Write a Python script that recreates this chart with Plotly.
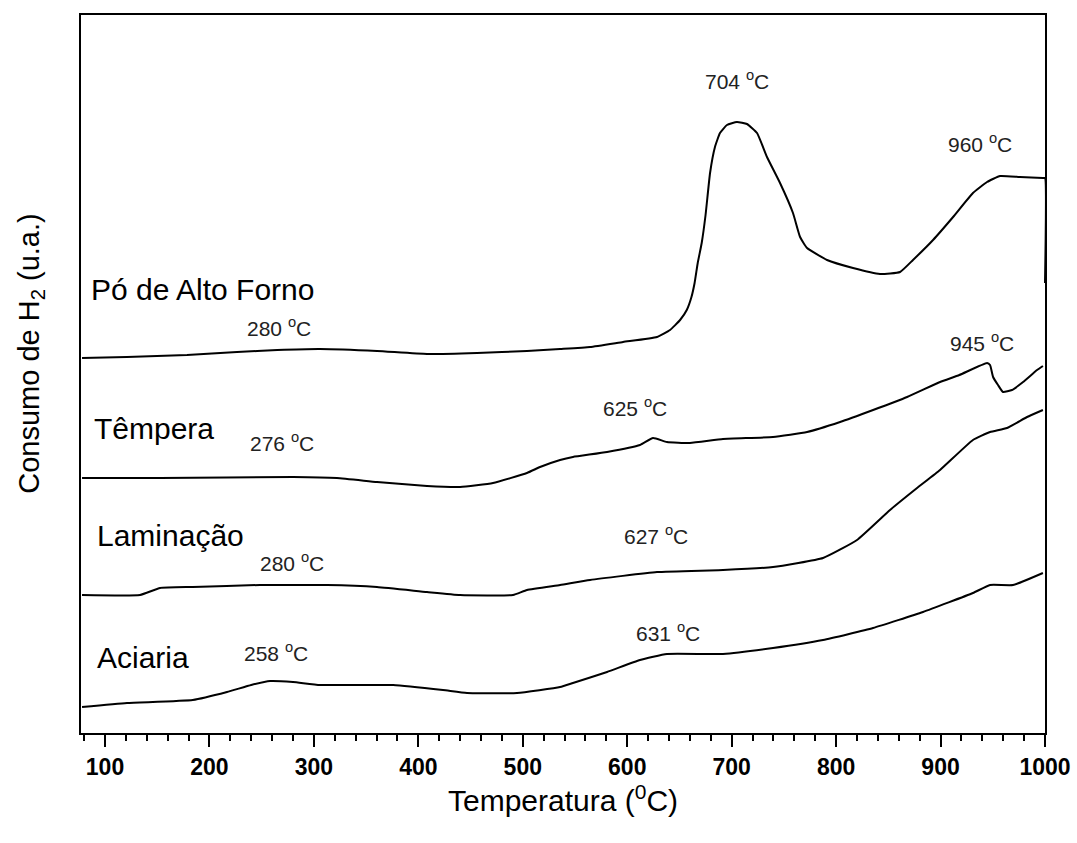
import plotly.graph_objects as go

# Temperature (°C) and H2 consumption (arbitrary units, offset per sample)
t_po = [78, 121, 178.5, 226.4, 265, 305.9, 360.4, 408.3, 456.2, 504, 535.7, 564.4, 596, 628.5, 641, 650.6,
        657, 661.5, 664.5, 667.5, 671.3, 675, 679.3, 684, 688.8, 695.5, 705, 714.7, 724.3, 733.8,
        746.3, 758.7, 765.5, 772.2, 791.3, 816.2, 842, 861.2, 873.6, 892.8, 912, 931, 944.5, 957,
        976, 998, 1000, 1000]
y_po = [375, 376, 378, 381, 383, 384, 382, 379, 380, 382, 384, 386, 391, 396, 403, 413,
        423, 436, 450, 470, 490, 518, 560, 586, 600, 608, 611, 609, 600, 576,
        550, 520, 496, 485, 473, 465, 459, 461, 473, 493, 516, 540, 551, 557,
        556, 555, 555, 450]

t_tem = [78, 152.7, 280, 322, 360.4, 408.3, 440, 471.5, 504, 516.5, 535.7, 548, 580.7, 612.2, 624.7,
         638, 660, 691.7, 739.6, 772.2, 803.8, 835.4, 868, 899.5, 918, 944.5, 947.4, 950.3, 955,
         959.8, 968.4, 979, 992.4, 998]
y_tem = [255, 255, 256, 255, 251, 247, 246, 250, 260, 266, 273, 276, 281, 288, 295,
         291, 290, 294, 296, 301, 311, 323, 336, 351, 358, 370, 368, 356, 348,
         341, 343, 351, 363, 367]

t_lam = [78, 133.5, 152.7, 184, 248.4, 312.6, 360.4, 408.3, 440, 490.6, 504, 535.7, 564.4, 628.5,
         691.7, 739.6, 787.5, 820, 851.6, 877.5, 899.5, 931, 947.4, 963.6, 982.8, 998]
y_lam = [138, 138, 145, 146, 148, 148, 146, 141, 138, 138, 143, 148, 153, 161,
         163, 166, 175, 193, 223, 245, 263, 293, 301, 305, 316, 323]

t_aci = [78, 121, 184, 216.8, 240, 258, 280, 305.9, 375.8, 423.6, 446.6, 494.5, 535.7, 548, 580.7,
         612.2, 638, 691.7, 739.6, 787.5, 835.4, 883.2, 931, 947.4, 969.4, 998]
y_aci = [26, 30, 33, 41, 48, 52, 51, 48, 48, 43, 40, 40, 46, 50, 61,
         73, 79, 79, 85, 93, 105, 121, 140, 148, 148, 160]

sample_names = ["Pó de Alto Forno", "Têmpera", "Laminação", "Aciaria"]
name_pos = [(84.7, 444), (87.5, 305), (90.4, 198), (90.4, 76)]

peak_labels = ["704", "960", "280", "945", "625", "276", "627", "280", "631", "258"]
peak_pos = [(705, 653), (938, 590), (267, 406), (940, 391), (607, 326),
            (269, 291), (628, 198), (279, 171), (639, 101), (264, 81)]

fig = go.Figure()
for t, y in [(t_po, y_po), (t_tem, y_tem), (t_lam, y_lam), (t_aci, y_aci)]:
    fig.add_trace(go.Scatter(x=t, y=y, mode="lines",
                             line=dict(color="black", width=2, shape="spline", smoothing=0.4),
                             showlegend=False))

for name, (x, y) in zip(sample_names, name_pos):
    fig.add_annotation(x=x, y=y, text=name, showarrow=False, xanchor="left", yanchor="middle",
                       font=dict(family="Arial", size=30, color="black"))

for lab, (x, y) in zip(peak_labels, peak_pos):
    fig.add_annotation(x=x, y=y, text=f"{lab} <sup>o</sup>C", showarrow=False,
                       xanchor="center", yanchor="middle",
                       font=dict(family="Arial", size=21, color="#222222"))

fig.add_annotation(xref="paper", yref="paper", x=-0.052, y=0.528,
                   text="Consumo de H<sub>2</sub> (u.a.)", textangle=-90, showarrow=False,
                   xanchor="center", yanchor="middle",
                   font=dict(family="Arial", size=29, color="black"))

fig.update_layout(
    width=1077, height=843,
    margin=dict(l=81, r=32, t=15, b=110, autoexpand=False),
    plot_bgcolor="white", paper_bgcolor="white",
    xaxis=dict(range=[77, 1000], tick0=0, dtick=100, ticks="outside", ticklen=12, tickwidth=2,
               tickcolor="black", showline=True, linecolor="black", linewidth=2, mirror=True,
               showgrid=False, zeroline=False, automargin=False,
               tickfont=dict(family="Arial", size=23, color="black", weight="bold"),
               minor=dict(dtick=20, ticks="outside", ticklen=6, tickwidth=1.5, tickcolor="black",
                          showgrid=False),
               title=dict(text="Temperatura (<sup>0</sup>C)", standoff=10,
                          font=dict(family="Arial", size=30, color="black"))),
    yaxis=dict(range=[0, 718], showticklabels=False, ticks="", showline=True, linecolor="black",
               linewidth=2, mirror=True, showgrid=False, zeroline=False, automargin=False),
)

fig.write_html("out.html")
